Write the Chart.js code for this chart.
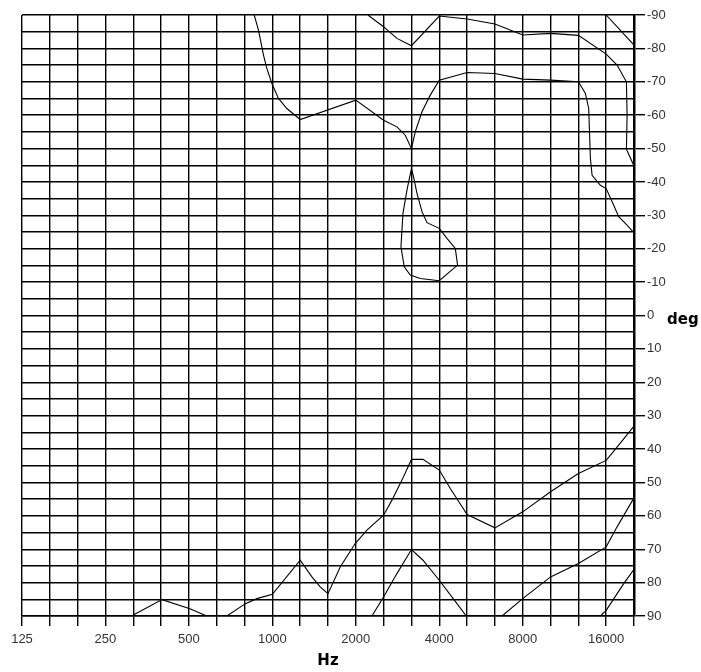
<!DOCTYPE html>
<html>
<head>
<meta charset="utf-8">
<script src="https://cdn.jsdelivr.net/npm/chart.js@4/dist/chart.umd.min.js"></script>
<style>
  html, body { margin: 0; padding: 0; background: #fff; }
  #wrap { width: 701px; height: 672px; }
</style>
</head>
<body>
<div id="wrap"><canvas id="c" width="701" height="672"></canvas></div>
<script>
// ---- tick labels ----
const xTickLabels = ['125', '250', '500', '1000', '2000', '4000', '8000', '16000'];
const xAxisTitle = 'Hz';
const yAxisTitle = 'deg';

// ---- contour lines (frequency in Hz, angle in degrees) ----
// upper-left contour with the closed loop around 3150-5000 Hz
const c1Freq = [860, 891, 929, 955, 996, 1052, 1128, 1260, 2000, 2518, 2814, 3015, 3175, 3175, 3059, 2959, 2910, 2990, 3144, 3416, 4000, 4657, 4569, 4264, 4000, 3612, 3465, 3324, 3231, 3175];
const c1Deg  = [-90, -85.5, -78, -74, -69.5, -65, -62, -58.7, -64.5, -58.5, -56.5, -54, -50, -44, -37.6, -30.6, -20.6, -14.6, -12.1, -11.1, -10.4, -15.1, -20.1, -23.1, -26.1, -27.8, -31.1, -36.6, -41.5, -44];

// upper contour from 3150 Hz to 20 kHz
const c2Freq = [3175, 3276, 3465, 3712, 4000, 5040, 6350, 8000, 10079, 12700, 13463, 13838, 14036, 14234, 15246, 16000, 17033, 17750, 18610, 20159];
const c2Deg  = [-50, -55, -61, -66, -70.5, -72.8, -72.5, -70.8, -70.5, -70, -66.5, -62, -47, -42, -39, -38, -33, -29.6, -27.9, -24.8];

// outer upper contour
const c3Freq = [2211, 2518, 2814, 3175, 4000, 5040, 6350, 8000, 10079, 12700, 16000, 17514, 18928, 19035, 18928, 20159];
const c3Deg  = [-90, -86.5, -83, -80.8, -89.7, -88.8, -87.3, -84, -84.5, -83.9, -78.3, -75, -70, -60, -49.8, -44.8];

// top-right corner segment
const c4Freq = [16000, 20159];
const c4Deg  = [-90, -81];

// lower contour, left piece
const c5Freq = [315, 400, 504, 580];
const c5Deg  = [89.7, 85.1, 87.8, 90];

// lower contour, main piece
const c6Freq = [685, 800, 879, 1000, 1260, 1389, 1488, 1587, 1757, 1990, 2193, 2518, 2700, 2934, 3175, 3494, 4000, 4384, 5040, 6350, 8000, 10079, 12700, 16000, 17514, 20159];
const c6Deg  = [90, 86.3, 84.8, 83.5, 73.3, 78.3, 81.3, 83.3, 75.3, 68.3, 64.3, 59.8, 55.3, 49.3, 43.1, 43.1, 46.3, 51.8, 59.6, 63.6, 58.8, 52.8, 47.3, 43.4, 39.4, 33.1];

// lower peak around 3150 Hz
const c7Freq = [2286, 2518, 2814, 3175, 3494, 4000, 4634, 5006];
const c7Deg  = [90, 84.3, 77.3, 70.1, 73.3, 79.3, 86.3, 90];

// lower right contour
const c8Freq = [6737, 8000, 10079, 12700, 16000, 17514, 20159];
const c8Deg  = [90, 84.8, 78.3, 74.3, 69.3, 63.3, 54.6];

// lowest right contour
const c9Freq = [15246, 16000, 18510, 20159];
const c9Deg  = [90, 88.3, 80.3, 76];

const series = [
  [c1Freq, c1Deg], [c2Freq, c2Deg], [c3Freq, c3Deg], [c4Freq, c4Deg],
  [c5Freq, c5Deg], [c6Freq, c6Deg], [c7Freq, c7Deg], [c8Freq, c8Deg], [c9Freq, c9Deg]
];

// third-octave grid positions from 125 Hz to 20 kHz
const xMin = 125;
const xGrid = [];
for (let i = 0; i <= 22; i++) xGrid.push(125 * Math.pow(2, i / 3));
const xMax = xGrid[xGrid.length - 1];
const yGrid = [];
for (let v = -90; v <= 90; v += 5) yGrid.push(v);

const datasets = series.map(([f, d]) => ({
  data: f.map((x, i) => ({ x: x, y: d[i] })),
  showLine: true,
  borderColor: '#000',
  borderWidth: 1.1,
  pointRadius: 0,
  tension: 0,
  fill: false
}));

const tickFont = { family: '"Liberation Sans", Arial, sans-serif', size: 13 };
const titleFontFamily = '"DejaVu Sans", Verdana, sans-serif';

const degLabel = {
  id: 'degLabel',
  afterDraw(chart) {
    const ys = chart.scales.y;
    const ctx = chart.ctx;
    ctx.save();
    ctx.font = 'bold 15px ' + titleFontFamily;
    ctx.fillStyle = '#000';
    ctx.textAlign = 'left';
    ctx.textBaseline = 'alphabetic';
    ctx.fillText(yAxisTitle, 667, ys.getPixelForValue(0) + 8);
    ctx.restore();
  }
};

new Chart(document.getElementById('c'), {
  type: 'scatter',
  data: { datasets },
  plugins: [degLabel],
  options: {
    responsive: false,
    devicePixelRatio: 1,
    animation: false,
    layout: { padding: { left: 22, top: 15, right: 0, bottom: 0 } },
    plugins: { legend: { display: false }, tooltip: { enabled: false } },
    scales: {
      x: {
        type: 'logarithmic',
        position: 'bottom',
        min: xMin,
        max: xMax,
        afterBuildTicks: s => { s.ticks = xGrid.map(v => ({ value: v })); },
        afterFit: s => { s.height = 56; },
        ticks: {
          autoSkip: false,
          maxRotation: 0,
          minRotation: 0,
          padding: 6,
          color: '#333',
          font: tickFont,
          callback: (v, i) => (i % 3 === 0 ? xTickLabels[i / 3] : '')
        },
        grid: { color: '#000', lineWidth: 1.4, tickLength: 10, tickColor: '#000', tickWidth: 1.4 },
        border: { color: '#000', width: 1.4 },
        title: {
          display: true,
          text: xAxisTitle,
          color: '#000',
          font: { family: titleFontFamily, size: 15, weight: 'bold' },
          padding: { top: 0, bottom: 2 }
        }
      },
      y: {
        type: 'linear',
        position: 'right',
        reverse: true,
        min: -90,
        max: 90,
        afterBuildTicks: s => { s.ticks = yGrid.map(v => ({ value: v })); },
        afterFit: s => { s.width = 67; },
        ticks: {
          autoSkip: false,
          padding: 2,
          color: '#333',
          font: tickFont,
          callback: v => (v % 10 === 0 ? String(v) : '')
        },
        grid: {
          color: '#000',
          lineWidth: 1.4,
          tickLength: 11,
          tickWidth: 1.4,
          tickColor: ctx => (ctx.tick && ctx.tick.value % 10 === 0 ? '#000' : 'rgba(0,0,0,0)')
        },
        border: { color: '#000', width: 2.5 }
      }
    }
  }
});
</script>
</body>
</html>
